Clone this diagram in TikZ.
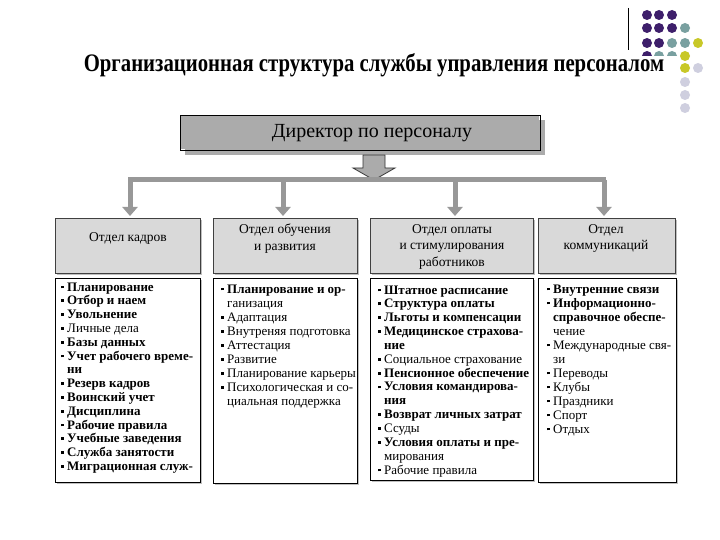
\documentclass[tikz,border=0pt]{standalone}
\usepackage{fontspec}
\setmainfont{Liberation Serif}
\usetikzlibrary{arrows.meta}
\definecolor{dpurple}{HTML}{3E1F6B}
\definecolor{dteal}{HTML}{79A0A0}
\definecolor{dyellow}{HTML}{C8C828}
\definecolor{dgrey}{HTML}{CFCFDF}
\definecolor{deptfill}{HTML}{D9D9D9}
\definecolor{dirfill}{HTML}{ABABAB}
\definecolor{barcol}{HTML}{989898}
\newcommand{\bl}{\llap{\raisebox{2.6pt}{\rule{2.8pt}{2.8pt}}\hspace{3.5pt}}}
\begin{document}
\begin{tikzpicture}[x=1pt,y=-1pt,
  dot/.style={circle,inner sep=0pt,minimum size=10pt},
  item/.style={anchor=base west,inner sep=0pt,font=\fontsize{13}{14}\selectfont},
  deptbox/.style={draw=black!75,fill=deptfill,line width=0.9pt},
  listbox/.style={draw=black,fill=white,line width=1pt},
  shadow/.style={fill=black!25},
  depttext/.style={align=center,inner sep=0pt,font=\fontsize{13.5}{16.5}\selectfont},
  link/.style={draw=barcol,line width=5pt},
  droparrow/.style={draw=barcol,line width=5pt,-{Triangle[width=15pt,length=9pt]}}]
\useasboundingbox (0,0) rectangle (720,540);
\fill[white] (0,0) rectangle (720,540);
% decorative dots
\foreach \x/\y/\c in {647/15/dpurple,659/15/dpurple,672/15/dpurple,
  647/28/dpurple,659/28/dpurple,672/28/dpurple,685/28/dteal,
  647/43/dpurple,659/43/dpurple,672/43/dteal,685/43/dteal,698/43/dyellow,
  647/56/dpurple,659/56/dteal,672/56/dteal,685/56/dyellow,
  685/68/dyellow,698/68/dgrey,685/82/dgrey,685/95/dgrey,685/108/dgrey}
  \node[dot,fill=\c] at (\x,\y) {};
\draw[black,line width=0.8pt] (628,8) -- (628,50);
\fill[white] (60,56.5) rectangle (679,82);
% title
\node[font=\fontsize{24}{28}\selectfont\bfseries,inner sep=0pt] (title) at (374,65)
  {\scalebox{0.865}[1.05]{Организационная структура службы управления персоналом}};
% director
\fill[dirfill] (185,120) rectangle (545,155);
\draw[black,line width=0.9pt] (180,115) rectangle (540,150);
\fill[dirfill] (181,116) rectangle (539,149);
\node[font=\fontsize{20}{23}\selectfont,inner sep=0pt] (dir) at (372,133) {Директор по персоналу};
\coordinate (dirb) at (374,155);
\coordinate (bartop) at (374,180);
\draw[black!80,fill=dirfill,line width=0.8pt]
  (363,155) -- (385,155) -- (385,168) -- (395,168) -- (374,180) -- (353,168) -- (363,168) -- cycle;
% bar
\coordinate (bl) at (128,180);
\coordinate (br) at (606,180);
\draw[link] (bl) -- (br);
% department boxes
\fill[shadow] (57,220) rectangle (202,275);
\fill[shadow] (215,220) rectangle (359,275);
\fill[shadow] (372,220) rectangle (535,275);
\fill[shadow] (540,220) rectangle (677,275);
\draw[deptbox] (55,218) rectangle (200,273);
\draw[deptbox] (213,218) rectangle (357,273);
\draw[deptbox] (370,218) rectangle (533,273);
\draw[deptbox] (538,218) rectangle (675,273);
\node[depttext] (d1) at (128,238.5) {Отдел кадров};
\node[depttext] (d2) at (285,238.5) {Отдел обучения\\и развития};
\node[depttext] (d3) at (452,246.5) {Отдел оплаты\\и стимулирования\\работников};
\node[depttext] (d4) at (606,238.5) {Отдел\\коммуникаций};
\coordinate (t1) at (130,180); \coordinate (t2) at (283,180);
\coordinate (t3) at (455,180); \coordinate (t4) at (604,180);
\coordinate (a1) at (130,216); \coordinate (a2) at (283,216);
\coordinate (a3) at (455,216); \coordinate (a4) at (604,216);
\foreach \i in {1,2,3,4} \draw[droparrow] (t\i) -- (a\i);
% list boxes
\fill[shadow] (57,280) rectangle (202,484);
\fill[shadow] (215,280) rectangle (359,485);
\fill[shadow] (372,280) rectangle (535,482);
\fill[shadow] (540,280) rectangle (678,484);
\draw[listbox] (55,278) rectangle (200,482);
\draw[listbox] (213,278) rectangle (357,483);
\draw[listbox] (370,278) rectangle (533,480);
\draw[listbox] (538,278) rectangle (676,482);
% list 1
\foreach \t [count=\i from 0] in {
  {\bl\bfseries Планирование},{\bl\bfseries Отбор и наем},{\bl\bfseries Увольнение},
  {\bl Личные дела},{\bl\bfseries Базы данных},{\bl\bfseries Учет рабочего време-},
  {\bfseries ни},{\bl\bfseries Резерв кадров},{\bl\bfseries Воинский учет},
  {\bl\bfseries Дисциплина},{\bl\bfseries Рабочие правила},{\bl\bfseries Учебные заведения},
  {\bl\bfseries Служба занятости},{\bl\bfseries Миграционная служ-}}
  \node[item] (p\i) at (67,{291+13.8*\i}) {\t};
% list 2
\foreach \t [count=\i from 0] in {
  {\bl\bfseries Планирование и ор-},{ганизация},{\bl Адаптация},
  {\bl Внутреняя подготовка},{\bl Аттестация},{\bl Развитие},
  {\bl Планирование карьеры},{\bl Психологическая и со-},{циальная поддержка}}
  \node[item] (q\i) at (227,{293+14.1*\i}) {\t};
% list 3
\foreach \t [count=\i from 0] in {
  {\bl\bfseries Штатное расписание},{\bl\bfseries Структура оплаты},{\bl\bfseries Льготы и компенсации},
  {\bl\bfseries Медицинское страхова-},{\bfseries ние},{\bl Социальное страхование},
  {\bl\bfseries Пенсионное обеспечение},{\bl\bfseries Условия командирова-},{\bfseries ния},
  {\bl\bfseries Возврат личных затрат},{\bl Ссуды},{\bl\bfseries Условия оплаты и пре-},
  {мирования},{\bl Рабочие правила}}
  \node[item] (r\i) at (384,{294+13.85*\i}) {\t};
% list 4
\foreach \t [count=\i from 0] in {
  {\bl\bfseries Внутренние связи},{\bl\bfseries Информационно-},{\bfseries справочное обеспе-},
  {чение},{\bl Международные свя-},{зи},{\bl Переводы},{\bl Клубы},
  {\bl Праздники},{\bl Спорт},{\bl Отдых}}
  \node[item] (s\i) at (553,{293+14*\i}) {\t};
\end{tikzpicture}
\end{document}
